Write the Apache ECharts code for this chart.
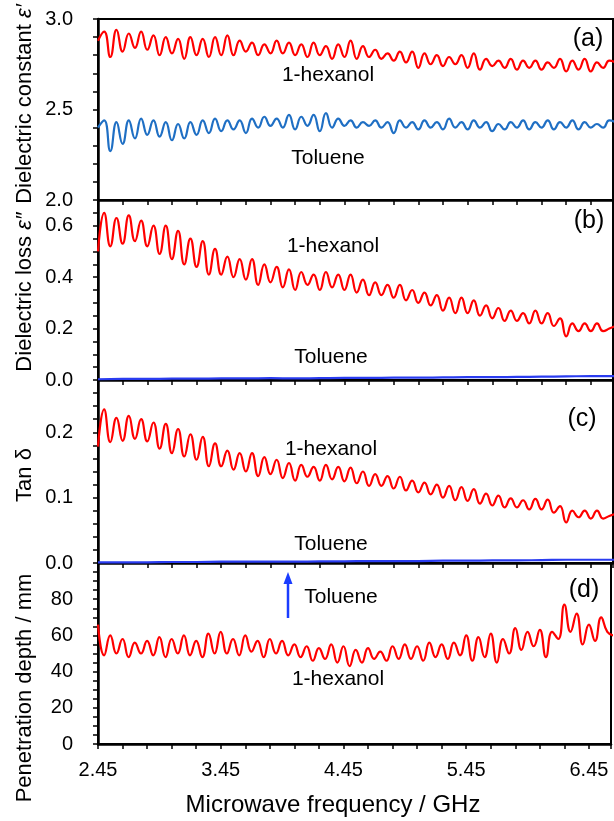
<!DOCTYPE html>
<html>
<head>
<meta charset="utf-8">
<script src="https://cdn.jsdelivr.net/npm/echarts@6/dist/echarts.min.js"></script>
<style>html,body{margin:0;padding:0;background:#fff;}#c{width:614px;height:821px;}</style>
</head>
<body>
<div id="c"></div>
<script>
// Frequencies (GHz)
const freq = [2.45,2.50,2.55,2.60,2.65,2.70,2.75,2.80,2.85,2.90,
2.95,3.00,3.05,3.10,3.15,3.20,3.25,3.30,3.35,3.40,
3.45,3.50,3.55,3.60,3.65,3.70,3.75,3.80,3.85,3.90,
3.95,4.00,4.05,4.10,4.15,4.20,4.25,4.30,4.35,4.40,
4.45,4.50,4.55,4.60,4.65,4.70,4.75,4.80,4.85,4.90,
4.95,5.00,5.05,5.10,5.15,5.20,5.25,5.30,5.35,5.40,
5.45,5.50,5.55,5.60,5.65,5.70,5.75,5.80,5.85,5.90,
5.95,6.00,6.05,6.10,6.15,6.20,6.25,6.30,6.35,6.40,
6.45,6.50,6.55,6.60,6.65];
const freqCoarse = [2.45,2.65,2.85,3.05,3.25,3.45,3.65,3.85,4.05,4.25,4.45,4.65,4.85,5.05,5.25,5.45,5.65,5.85,6.05,6.25,6.45,6.65];

// (a) Dielectric constant
const epsHexanol = [2.88,2.93,2.79,2.94,2.82,2.92,2.84,2.93,2.83,2.91,
2.80,2.90,2.81,2.89,2.78,2.90,2.80,2.89,2.79,2.90,
2.80,2.91,2.80,2.88,2.82,2.87,2.80,2.86,2.81,2.88,
2.81,2.87,2.80,2.86,2.79,2.87,2.80,2.85,2.78,2.86,
2.79,2.88,2.78,2.85,2.79,2.83,2.78,2.81,2.77,2.82,
2.76,2.82,2.73,2.81,2.75,2.80,2.74,2.79,2.75,2.80,
2.73,2.81,2.72,2.78,2.74,2.77,2.73,2.78,2.72,2.77,
2.73,2.77,2.72,2.76,2.73,2.78,2.71,2.77,2.72,2.78,
2.71,2.76,2.73,2.77,2.76];
const epsToluene = [2.40,2.44,2.27,2.43,2.31,2.44,2.34,2.45,2.36,2.44,
2.35,2.43,2.33,2.42,2.34,2.43,2.36,2.44,2.37,2.45,
2.38,2.44,2.39,2.44,2.37,2.45,2.40,2.46,2.41,2.45,
2.40,2.47,2.39,2.46,2.41,2.47,2.38,2.48,2.40,2.45,
2.41,2.44,2.40,2.43,2.41,2.44,2.40,2.43,2.37,2.44,
2.40,2.43,2.39,2.44,2.40,2.43,2.39,2.45,2.40,2.43,
2.39,2.44,2.40,2.43,2.38,2.42,2.39,2.43,2.40,2.44,
2.39,2.43,2.40,2.44,2.39,2.43,2.40,2.44,2.39,2.43,
2.40,2.42,2.40,2.44,2.43];

// (b) Dielectric loss
const lossHexanol = [0.50,0.65,0.52,0.63,0.53,0.64,0.54,0.62,0.52,0.60,
0.49,0.60,0.47,0.58,0.45,0.55,0.44,0.54,0.41,0.51,
0.41,0.48,0.40,0.47,0.39,0.47,0.37,0.45,0.38,0.44,
0.36,0.43,0.35,0.42,0.37,0.41,0.35,0.42,0.36,0.41,
0.35,0.41,0.34,0.39,0.33,0.38,0.33,0.37,0.32,0.37,
0.31,0.35,0.30,0.34,0.29,0.33,0.27,0.32,0.26,0.32,
0.26,0.31,0.25,0.29,0.24,0.28,0.23,0.27,0.23,0.26,
0.22,0.27,0.22,0.26,0.21,0.24,0.17,0.22,0.19,0.22,
0.19,0.22,0.19,0.20,0.21];
const lossToluene = [0.003,0.004,0.004,0.005,0.005,0.006,0.006,0.007,0.006,0.007,0.008,0.008,0.009,0.009,0.010,0.011,0.011,0.012,0.013,0.014,0.015,0.015];

// (c) Tan delta
const tanHexanol = [0.178,0.235,0.185,0.222,0.187,0.225,0.190,0.220,0.186,0.215,
0.175,0.213,0.168,0.205,0.163,0.197,0.158,0.193,0.148,0.183,
0.148,0.172,0.143,0.168,0.140,0.168,0.133,0.162,0.136,0.158,
0.130,0.153,0.126,0.150,0.132,0.147,0.126,0.150,0.128,0.147,
0.125,0.146,0.122,0.140,0.118,0.136,0.118,0.133,0.114,0.132,
0.111,0.126,0.108,0.123,0.105,0.120,0.100,0.118,0.096,0.116,
0.095,0.113,0.091,0.106,0.088,0.103,0.085,0.099,0.085,0.096,
0.082,0.098,0.082,0.097,0.077,0.087,0.062,0.080,0.070,0.080,
0.068,0.080,0.068,0.072,0.075];
const tanToluene = [0.001,0.001,0.001,0.0015,0.0015,0.002,0.002,0.002,0.002,0.0025,0.0025,0.003,0.003,0.003,0.0035,0.0035,0.004,0.004,0.0045,0.005,0.005,0.005];

// (d) Penetration depth (mm)
const depthHexanol = [66,49,60,50,58,48,56,50,57,49,
59,48,58,50,60,49,57,48,61,50,
62,50,58,49,60,51,57,48,58,50,
57,49,55,48,54,46,53,47,55,45,
54,43,52,45,53,47,51,46,54,47,
55,47,54,46,56,48,55,47,56,49,
60,46,59,48,61,45,58,50,64,52,
62,54,63,48,62,58,77,62,72,55,
66,57,70,62,60];

const F0 = 2.45;
const xMaxGHz = 6.63;
const pairs = (xs, ys) => xs.map((x, i) => [+(x - F0).toFixed(4), ys[i]]);

const FONT = '"Liberation Sans", Arial, sans-serif';
const RED = '#ff0000';
const BLUE_A = '#1f6fc4';
const BLUE = '#2a3cf0';

const grids = [
  {left: 98, top: 19, height: 181, right: 1},
  {left: 98, top: 200, height: 180, right: 1},
  {left: 98, top: 380, height: 183, right: 1},
  {left: 98, top: 563, height: 181, right: 1}
];

function xAx(i, showLabel) {
  return {
    type: 'value', gridIndex: i, min: 0, max: +(xMaxGHz - F0).toFixed(4), interval: 0.2,
    axisLine: {show: true, lineStyle: {color: '#000', width: 2.5}},
    axisTick: {show: true, inside: false, length: 5, lineStyle: {color: '#000', width: 1.5}},
    splitLine: {show: false},
    axisLabel: {
      show: showLabel, margin: 16, color: '#000', fontSize: 20, fontFamily: FONT,
      formatter: v => (Math.abs(v - Math.round(v)) < 1e-6 && v < 4.1) ? (v + F0).toFixed(2) : ''
    }
  };
}
function yAx(i, min, max, interval, labelStep, hideAbove) {
  return {
    type: 'value', gridIndex: i, min: min, max: max, interval: interval,
    axisLine: {show: true, lineStyle: {color: '#000', width: 2.5}},
    axisTick: {show: true, inside: false, length: 5, lineStyle: {color: '#000', width: 1.5}},
    splitLine: {show: false},
    axisLabel: {
      margin: 25, color: '#000', fontSize: 20, fontFamily: FONT,
      formatter: v => {
        const r = v / labelStep;
        if (Math.abs(r - Math.round(r)) > 1e-6) return '';
        if (hideAbove !== undefined && v > hideAbove) return '';
        return labelStep >= 1 ? String(Math.round(v)) : v.toFixed(1);
      }
    }
  };
}

function lineSeries(i, data, color) {
  return {
    type: 'line', xAxisIndex: i, yAxisIndex: i, data: data, smooth: 0.5,
    showSymbol: false, symbol: 'none', clip: true,
    lineStyle: {color: color, width: 2.2}, itemStyle: {color: color}, z: 3
  };
}

function txt(x, y, s, size, rot, extra) {
  return Object.assign({
    type: 'text', x: x, y: y, rotation: rot || 0, z: 10,
    style: {text: s, x: 0, y: 0, align: 'center', verticalAlign: 'middle', font: size + 'px ' + FONT, fill: '#000'}
  }, extra || {});
}

const chart = echarts.init(document.getElementById('c'), null, {renderer: 'canvas'});
chart.setOption({
  animation: false,
  backgroundColor: '#fff',
  grid: grids.map(g => Object.assign({show: true, borderColor: '#000', borderWidth: 2, backgroundColor: 'transparent'}, g)),
  xAxis: [xAx(0, false), xAx(1, false), xAx(2, false), xAx(3, true)],
  yAxis: [
    yAx(0, 2, 3, 0.1, 0.5),
    yAx(1, 0, 0.7, 0.05, 0.2),
    yAx(2, 0, 0.28, 0.02, 0.1),
    yAx(3, 0, 100, 5, 20, 90)
  ],
  series: [
    lineSeries(0, pairs(freq, epsHexanol), RED),
    lineSeries(0, pairs(freq, epsToluene), BLUE_A),
    lineSeries(1, pairs(freq, lossHexanol), RED),
    lineSeries(1, pairs(freqCoarse, lossToluene), BLUE),
    lineSeries(2, pairs(freq, tanHexanol), RED),
    lineSeries(2, pairs(freqCoarse, tanToluene), BLUE),
    lineSeries(3, pairs(freq, depthHexanol), RED)
  ],
  graphic: [
    {
      type: 'text', x: 25, y: 104, rotation: Math.PI / 2, z: 10,
      style: {
        text: '{n|Dielectric constant }{e|ε′}', x: 0, y: 0, align: 'center', verticalAlign: 'middle',
        rich: {n: {font: '22px ' + FONT, fill: '#000'}, e: {font: 'italic 22px ' + FONT, fill: '#000'}}
      }
    },
    {
      type: 'text', x: 25, y: 292, rotation: Math.PI / 2, z: 10,
      style: {
        text: '{n|Dielectric loss }{e|ε″}', x: 0, y: 0, align: 'center', verticalAlign: 'middle',
        rich: {n: {font: '22px ' + FONT, fill: '#000'}, e: {font: 'italic 22px ' + FONT, fill: '#000'}}
      }
    },
    txt(25, 475, 'Tan δ', 22, Math.PI / 2),
    txt(25, 688, 'Penetration depth / mm', 22, Math.PI / 2),
    txt(333, 805, 'Microwave frequency / GHz', 24, 0),
    txt(588, 39, '(a)', 25, 0),
    txt(589, 221, '(b)', 25, 0),
    txt(582, 419, '(c)', 25, 0),
    txt(584, 590, '(d)', 25, 0),
    txt(328, 75, '1-hexanol', 21, 0),
    txt(328, 158, 'Toluene', 21, 0),
    txt(333, 246, '1-hexanol', 21, 0),
    txt(331, 357, 'Toluene', 21, 0),
    txt(331, 449, '1-hexanol', 21, 0),
    txt(331, 544, 'Toluene', 21, 0),
    txt(341, 597, 'Toluene', 21, 0),
    txt(338, 679, '1-hexanol', 21, 0),
    {type: 'line', z: 10, shape: {x1: 288, y1: 618, x2: 288, y2: 582}, style: {stroke: '#1a3cff', lineWidth: 2.5}},
    {type: 'polygon', z: 10, shape: {points: [[283.5, 584], [292.5, 584], [288, 572]]}, style: {fill: '#1a3cff'}}
  ]
});
</script>
</body>
</html>
